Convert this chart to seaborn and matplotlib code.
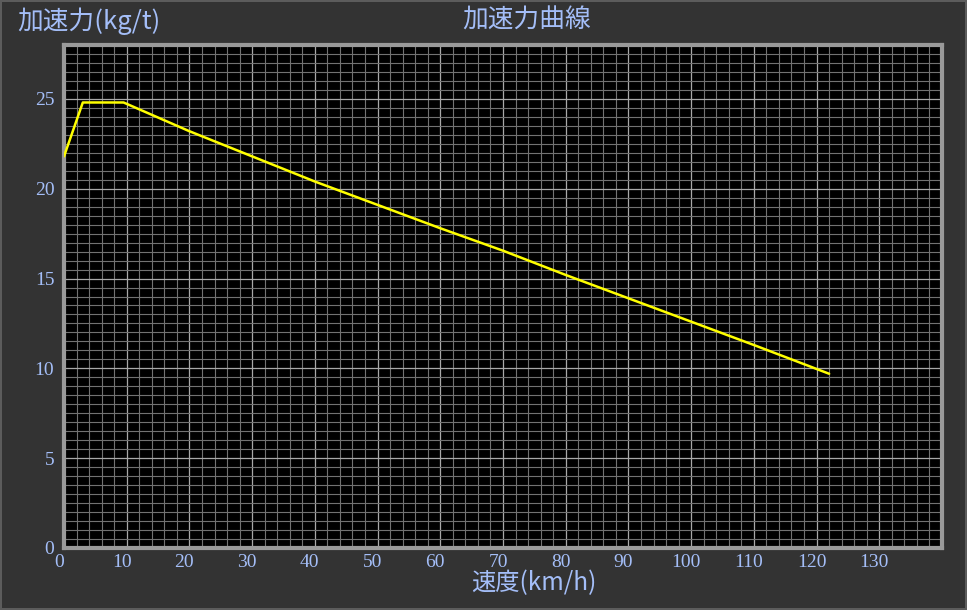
import matplotlib
matplotlib.use('Agg')
import matplotlib.pyplot as plt
import matplotlib.transforms as mtransforms
from matplotlib.ticker import MultipleLocator
import seaborn as sns
import pandas as pd

# 速度(km/h) と 加速力(kg/t)
speed = [0, 3, 9.5, 20, 30, 40, 50, 60, 70, 80, 90, 100, 110, 122]
accel = [21.8, 24.8, 24.8, 23.2, 21.8, 20.4, 19.1, 17.8, 16.55, 15.2, 13.9, 12.6, 11.3, 9.7]
x_ticks = [0, 10, 20, 30, 40, 50, 60, 70, 80, 90, 100, 110, 120, 130]
y_ticks = [0, 5, 10, 15, 20, 25]

title = "加速力曲線"
ylabel = "加速力(kg/t)"
xlabel = "速度(km/h)"

BG = "#333333"
TXT = "#a4bef8"
CJK = ["Noto Sans CJK JP", "DejaVu Sans"]

sns.set_style("dark")
plt.rcParams['font.family'] = CJK

fig = plt.figure(figsize=(9.67, 6.10), dpi=100)
fig.patch.set_facecolor(BG)
fig.patch.set_edgecolor("#5c5c5c")
fig.patch.set_linewidth(1.5)

W, H = 967, 610
ax = fig.add_axes([64 / W, (H - 548) / H, (942 - 64) / W, (548 - 45) / H])
ax.set_facecolor("black")

df = pd.DataFrame({"speed": speed, "accel": accel})
sns.lineplot(data=df, x="speed", y="accel", color="#ffff00", linewidth=1.8, ax=ax, zorder=5)

ax.set_xlim(0, 140)
ax.set_ylim(0, 28)
ax.set_xticks(x_ticks)
ax.set_yticks(y_ticks)
ax.xaxis.set_minor_locator(MultipleLocator(2))
ax.yaxis.set_minor_locator(MultipleLocator(0.5))
ax.grid(which="minor", color="#727272", linewidth=0.8)
ax.grid(which="major", color="#a8a8a8", linewidth=0.9)
ax.set_axisbelow(True)

for s in ax.spines.values():
    s.set_color("#9a9a9a")
    s.set_linewidth(3)
    s.set_visible(True)

ax.tick_params(which="both", length=0)
ax.tick_params(axis="x", pad=4, labelcolor=TXT, labelsize=14)
ax.tick_params(axis="y", pad=7, labelcolor=TXT, labelsize=14)
for lab in ax.get_xticklabels() + ax.get_yticklabels():
    lab.set_fontfamily("Liberation Serif")
shift = mtransforms.ScaledTranslation(-5 / 100, 0, fig.dpi_scale_trans)
for lab in ax.get_xticklabels():
    lab.set_transform(lab.get_transform() + shift)

ax.set_xlabel("")
ax.set_ylabel("")

fig.text(527 / W, 1 - 21 / H, title, color=TXT, fontsize=18.5, ha="center", va="center", family=CJK)
fig.text(17 / W, 1 - 21 / H, ylabel, color=TXT, fontsize=18.5, ha="left", va="center", family=CJK)
fig.text(534 / W, 1 - 583 / H, xlabel, color=TXT, fontsize=17.5, ha="center", va="center", family=CJK)

fig.savefig("out.png", dpi=100, facecolor=BG, edgecolor=fig.patch.get_edgecolor())
plt.close()
